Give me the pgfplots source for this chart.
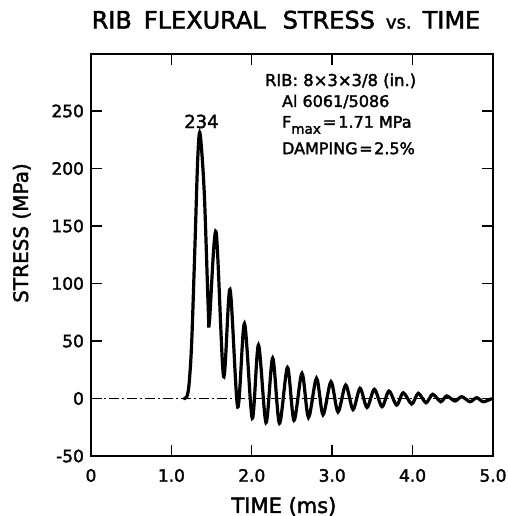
\documentclass[border=0pt]{standalone}
\usepackage{fontspec}
\setmainfont{DejaVu Sans}[FakeBold=2]
\usepackage{pgfplots}
\pgfplotsset{compat=1.18}
\begin{document}
\begin{tikzpicture}
\useasboundingbox (-45.5pt,-30pt) rectangle (208.5pt,228pt);
\begin{axis}[
  at={(0,0)}, anchor=south west,
  scale only axis, width=201pt, height=201.25pt,
  xmin=0, xmax=5, ymin=-50, ymax=300,
  xtick={0,1,2,3,4,5}, xticklabels={0,1.0,2.0,3.0,4.0,5.0},
  ytick={-50,0,50,100,150,200,250}, yticklabels={-50,0,50,100,150,200,250},
  tick align=inside,
  major tick length=5.5pt,
  major tick style={line width=0.7pt, draw=black},
  axis line style={line width=1pt},
  ticklabel style={font=\fontsize{8.5}{10}\selectfont},
  xticklabel style={yshift=-3pt},
  title={RIB\hspace{6pt}FLEXURAL\hspace{8.5pt}STRESS\hspace{5.5pt}{\fontsize{9}{10}\selectfont vs.}\hspace{5.5pt}TIME},
  title style={at={(axis description cs:0.485,1.0323)}, anchor=base, font=\fontsize{12}{14}\selectfont},
  xlabel={TIME (ms)},
  xlabel style={at={(axis description cs:0.480,-0.1416)}, anchor=base, font=\fontsize{10.5}{12}\selectfont},
  ylabel={STRESS (MPa)},
  ylabel style={at={(axis description cs:-0.1567,0.554)}, anchor=base, font=\fontsize{10}{12}\selectfont},
]
\addplot[black, line width=0.4pt, dash pattern=on 5pt off 1.5pt on 1pt off 1.5pt] coordinates {(0,0) (5,0)};
\addplot[black, line width=1.6pt, smooth] coordinates {
(1.148,0) (1.190,1.3) (1.219,12) (1.252,48.0) (1.294,135.2) (1.327,207.4) (1.356,230.6)
(1.409,178.7) (1.459,77.0) (1.474,67.8) (1.555,145.0) (1.649,19.1) (1.729,94.8)
(1.825,-7.4) (1.909,65.2) (2.006,-17.2) (2.083,46.5) (2.177,-20.9) (2.260,35.2)
(2.344,-21.6) (2.444,27.0) (2.525,-19.1) (2.624,21.9) (2.705,-16.5) (2.805,17.6)
(2.886,-14.1) (2.985,14.6) (3.072,-11.7) (3.168,11.7) (3.259,-9.6) (3.346,8.9)
(3.433,-7.8) (3.524,8.0) (3.620,-7.1) (3.706,6.5) (3.802,-5.7) (3.884,5.0)
(3.989,-4.8) (4.071,4.5) (4.167,-3.7) (4.250,3.7) (4.350,-2.8) (4.424,2.2)
(4.527,-2.2) (4.611,1.6) (4.714,-2.8) (4.797,0.7) (4.879,-2.8) (4.988,0)
};
\node[anchor=center, font=\fontsize{9}{10}\selectfont] at (axis cs:1.374,240.9) {234};
\node[anchor=base west, font=\fontsize{8.2}{10}\selectfont] at (axis cs:2.077,271.7) {RIB: 8×3×3/8 (in.)};
\node[anchor=base west, font=\fontsize{8}{10}\selectfont] at (axis cs:2.289,253.5) {Al 6061/5086};
\node[anchor=base west, font=\fontsize{8}{10}\selectfont] at (axis cs:2.289,235.5) {F\raisebox{-3pt}{\fontsize{6.8}{8}\selectfont max}\hspace{1pt}=\hspace{1pt}1.71 MPa};
\node[anchor=base west, font=\fontsize{8}{10}\selectfont] at (axis cs:2.289,212.5) {DAMPING\hspace{0.8pt}=\hspace{0.8pt}2.5\%};
\end{axis}
\end{tikzpicture}
\end{document}
